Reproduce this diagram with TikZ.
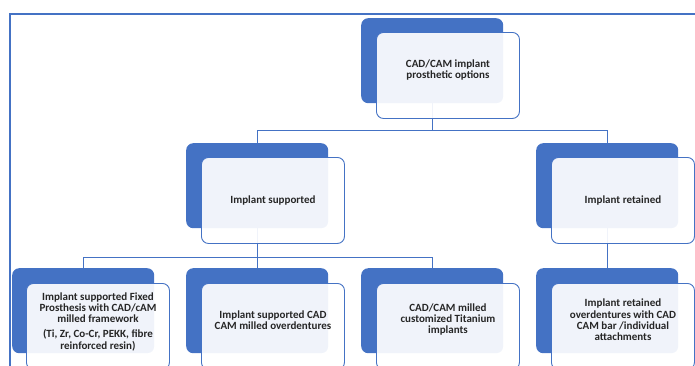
\documentclass[tikz,border=0pt]{standalone}
\usepackage{fontspec}
\setmainfont{Carlito}
\definecolor{ofblue}{HTML}{4472C4}
\definecolor{txt}{HTML}{262626}
\begin{document}
\begin{tikzpicture}[x=1pt,y=-1pt,
  back/.style={fill=ofblue, rounded corners=7pt, minimum width=142pt, minimum height=85pt, inner sep=0pt, anchor=north west},
  front/.style={draw=ofblue, line width=0.9pt, fill=white, fill opacity=0.92, text opacity=1, rounded corners=7pt, minimum width=143pt, minimum height=86pt, inner sep=2pt, anchor=north west, align=center, font=\bfseries\fontsize{11}{11.2}\selectfont, text=txt},
  link/.style={draw=ofblue, line width=0.9pt}]
\useasboundingbox (0,0) rectangle (695,365);
\clip (0,0) rectangle (695,365);
% frame
\draw[ofblue, line width=1.4pt] (10,366) -- (10,14) -- (696,14);
% back boxes
\node[back] (b0) at (361,18) {};
\node[back] (b1) at (186,143) {};
\node[back] (b2) at (536,143) {};
\node[back] (b3) at (12,268) {};
\node[back] (b4) at (186,268) {};
\node[back] (b5) at (361,268) {};
\node[back] (b6) at (536,268) {};
% connectors
\coordinate (h1) at (0,130);
\coordinate (h2) at (0,257);
\draw[link] (b0.south) -- (b0.south |- h1) -| (b1.north);
\draw[link] (b0.south |- h1) -| (b2.north);
\draw[link] (b1.south) -- (b1.south |- h2) -| (b3.north);
\draw[link] (b1.south |- h2) -- (b4.north);
\draw[link] (b1.south |- h2) -| (b5.north);
\draw[link] (b2.south) -- (b6.north);
% front boxes
\node[front] (f0) at (376,32) {CAD/CAM implant\\prosthetic options\\[1pt]};
\node[front] (f1) at (201,157) {Implant supported};
\node[front] (f2) at (551,157) {Implant retained};
\node[front] (f3) at (26,283) {Implant supported Fixed\\Prosthesis with CAD/cAM\\milled framework\\[4pt](Ti, Zr, Co-Cr, PEKK, fibre\\reinforced resin)\\[0pt]};
\node[front] (f4) at (201,283) {Implant supported CAD\\CAM milled overdentures\\[2pt]};
\node[front] (f5) at (376,283) {CAD/CAM milled\\customized Titanium\\implants\\[5pt]};
\node[front] (f6) at (551,283) {Implant retained\\overdentures with CAD\\CAM bar /individual\\attachments\\[2pt]};
\end{tikzpicture}
\end{document}
